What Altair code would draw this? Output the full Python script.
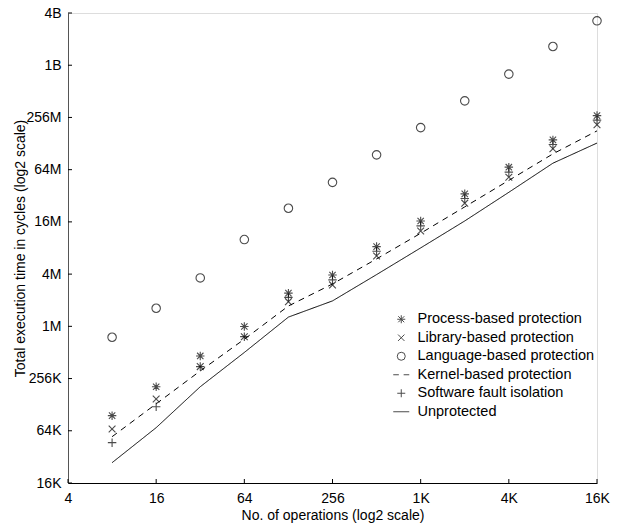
import altair as alt
import pandas as pd

# ---- data ----
ops = [8, 16, 32, 64, 128, 256, 512, 1024, 2048, 4096, 8192, 16384]

process = [97900, 211000, 478000, 1045000, 2530000, 4100000, 8710000,
           17200000, 35300000, 71700000, 148000000, 282000000]
library = [68700, 152000, 360000, 797000, 2020000, 3150000, 6800000,
           13200000, 27600000, 55000000, 117000000, 221000000]
language = [785000, 1695000, 3790000, 10500000, 24100000, 47900000, 99400000,
            205000000, 417000000, 848000000, 1765000000, 3490000000]
kernel = [56000, 134000, 321000, 745000, 1800000, 3230000, 6280000,
          12400000, 25000000, 50500000, 102000000, 188000000]
sfi = [47800, 124000, 360000, 797000, 2260000, 3600000, 7700000,
       15100000, 31200000, 62800000, 131000000, 250000000]
unprotected = [28100, 71200, 211000, 524000, 1340000, 2060000, 4140000,
               8410000, 17200000, 36800000, 79700000, 136000000]

series_names = ["Process-based protection", "Library-based protection",
                "Language-based protection", "Kernel-based protection",
                "Software fault isolation", "Unprotected"]
marker_series = ["Process-based protection", "Library-based protection",
                 "Language-based protection", "Software fault isolation"]
line_series = ["Kernel-based protection", "Unprotected"]

x_tick_values = [4, 16, 64, 256, 1024, 4096, 16384]
x_tick_labels = ["4", "16", "64", "256", "1K", "4K", "16K"]
y_tick_values = [16384, 65536, 262144, 1048576, 4194304, 16777216,
                 67108864, 268435456, 1073741824, 4294967296]
y_tick_labels = ["16K", "64K", "256K", "1M", "4M", "16M", "64M", "256M", "1B", "4B"]

# ---- tables ----
rows = []
for name, vals in zip(series_names, [process, library, language, kernel, sfi, unprotected]):
    for o, v in zip(ops, vals):
        rows.append({"ops": o, "cycles": v, "series": name})
df = pd.DataFrame(rows)
pts = df[df.series.isin(marker_series)]
lines = df[df.series.isin(line_series)]
xticks = pd.DataFrame({"v": x_tick_values})
yticks = pd.DataFrame({"v": y_tick_values})


def label_expr(values, labels):
    expr = "''"
    for v, l in reversed(list(zip(values, labels))):
        expr = f"datum.value == {v} ? '{l}' : ({expr})"
    return expr


FONT = "Liberation Sans"
FS = 14
ASTERISK = "M-1,0L1,0M0,-1L0,1M-0.75,-0.75L0.75,0.75M-0.75,0.75L0.75,-0.75"
XMARK = "M-0.8,-0.8L0.8,0.8M-0.8,0.8L0.8,-0.8"
PLUS = "M-1,0L1,0M0,-1L0,1"
DASH = "M-2,0L-0.6,0M0.6,0L2,0"
SOLID = "M-2,0L2,0"
shape_range = [ASTERISK, XMARK, "circle", DASH, PLUS, SOLID]

xscale = alt.Scale(type="log", base=2, domain=[4, 16384], nice=False)
yscale = alt.Scale(type="log", base=2, domain=[16384, 4294967296], nice=False)

xaxis = alt.Axis(values=x_tick_values, labelExpr=label_expr(x_tick_values, x_tick_labels),
                 ticks=False, grid=False, domainColor="black", labelColor="black",
                 labelFont=FONT, labelFontSize=FS, labelPadding=8, labelFlush=False,
                 title="No. of operations (log2 scale)", titleFont=FONT,
                 titleFontSize=FS, titleFontWeight="normal", titleColor="black",
                 titlePadding=3)
yaxis = alt.Axis(values=y_tick_values, labelExpr=label_expr(y_tick_values, y_tick_labels),
                 ticks=False, grid=False, domainColor="#555555", labelColor="black",
                 labelFont=FONT, labelFontSize=FS, labelPadding=7, labelFlush=False,
                 title="Total execution time in cycles (log2 scale)", titleFont=FONT,
                 titleFontSize=FS, titleFontWeight="normal", titleColor="black",
                 titlePadding=-2)

points = alt.Chart(pts).mark_point(filled=False, color="black", strokeWidth=1.1, size=72).encode(
    x=alt.X("ops:Q", scale=xscale, axis=xaxis),
    y=alt.Y("cycles:Q", scale=yscale, axis=yaxis),
    shape=alt.Shape("series:N", scale=alt.Scale(domain=series_names, range=shape_range),
                    legend=alt.Legend(title=None, orient="none", legendX=326, legendY=299,
                                      symbolSize=64, symbolStrokeColor="black",
                                      symbolFillColor="transparent", symbolStrokeWidth=1,
                                      labelFont=FONT, labelFontSize=14.5, labelColor="black",
                                      labelOffset=9, rowPadding=3.5, padding=0,
                                      labelLimit=400)),
)

curves = alt.Chart(lines).mark_line(color="black", strokeWidth=1).encode(
    x=alt.X("ops:Q", scale=xscale),
    y=alt.Y("cycles:Q", scale=yscale),
    strokeDash=alt.StrokeDash("series:N", scale=alt.Scale(domain=line_series, range=[[6, 5], [1, 0]]),
                              legend=None),
    detail="series:N",
)

xtick_marks = alt.Chart(xticks).mark_rule(color="black", strokeWidth=1, y2Offset=-4).encode(
    x=alt.X("v:Q", scale=xscale),
    y=alt.datum(16384, scale=yscale),
    y2=alt.datum(16384),
)
ytick_marks = alt.Chart(yticks).mark_rule(color="black", strokeWidth=1, x2Offset=4).encode(
    y=alt.Y("v:Q", scale=yscale),
    x=alt.datum(4, scale=xscale),
    x2=alt.datum(4),
)

chart = alt.layer(curves, points, xtick_marks, ytick_marks).properties(
    width=529, height=470,
    padding={"left": 68, "top": 13, "right": 21, "bottom": 46},
    autosize=alt.AutoSizeParams(type="none"),
).configure_view(stroke=None).configure(background="white")

chart.save("out.html", embed_options={"renderer": "svg", "actions": False})
